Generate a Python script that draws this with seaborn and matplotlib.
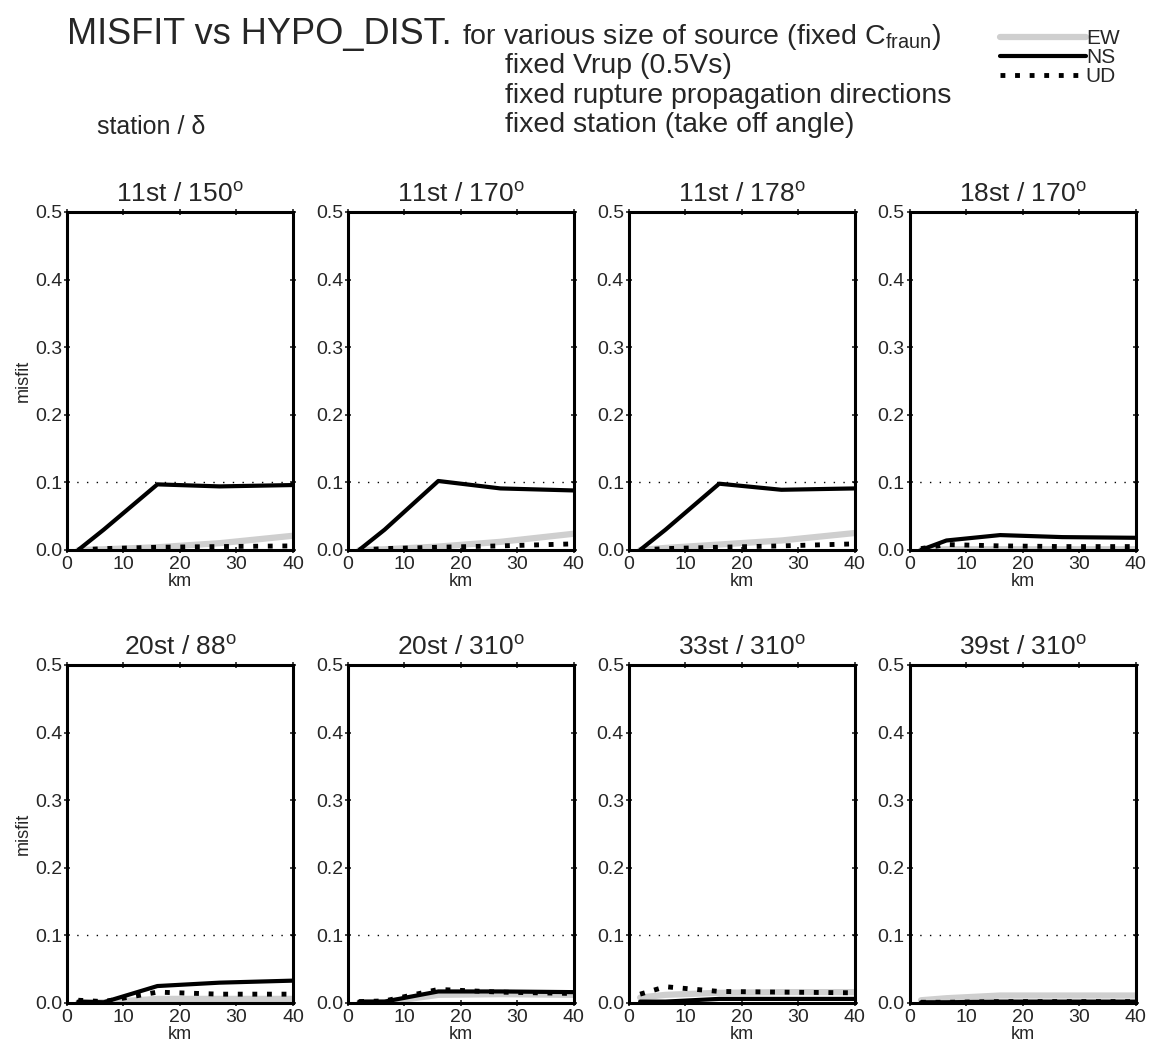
import pandas as pd
import matplotlib
matplotlib.use("Agg")
import matplotlib.pyplot as plt
import seaborn as sns
from matplotlib.lines import Line2D

# hypocentral distance samples (km)
dist = [2, 6.5, 16, 27, 40]

titles = [
    r"11st / 150$^{\mathrm{o}}$", r"11st / 170$^{\mathrm{o}}$",
    r"11st / 178$^{\mathrm{o}}$", r"18st / 170$^{\mathrm{o}}$",
    r"20st / 88$^{\mathrm{o}}$", r"20st / 310$^{\mathrm{o}}$",
    r"33st / 310$^{\mathrm{o}}$", r"39st / 310$^{\mathrm{o}}$",
]

ns = [
    [0.000, 0.030, 0.097, 0.094, 0.096],
    [0.000, 0.030, 0.102, 0.091, 0.088],
    [0.000, 0.030, 0.098, 0.089, 0.091],
    [0.000, 0.014, 0.022, 0.019, 0.018],
    [0.002, 0.001, 0.025, 0.030, 0.033],
    [0.002, 0.002, 0.017, 0.017, 0.016],
    [0.002, 0.002, 0.006, 0.006, 0.006],
    [0.001, 0.001, 0.002, 0.002, 0.002],
]
ew = [
    [0.000, 0.001, 0.004, 0.010, 0.021],
    [0.000, 0.001, 0.005, 0.012, 0.024],
    [0.000, 0.003, 0.008, 0.014, 0.025],
    [0.000, 0.001, 0.001, 0.001, 0.001],
    [0.001, 0.001, 0.006, 0.006, 0.006],
    [0.001, 0.001, 0.012, 0.013, 0.012],
    [0.008, 0.012, 0.015, 0.016, 0.016],
    [0.004, 0.007, 0.011, 0.011, 0.011],
]
ud = [
    [0.000, 0.002, 0.004, 0.005, 0.006],
    [0.000, 0.002, 0.004, 0.006, 0.009],
    [0.000, 0.002, 0.004, 0.006, 0.009],
    [0.002, 0.008, 0.006, 0.005, 0.005],
    [0.004, 0.002, 0.016, 0.013, 0.013],
    [0.002, 0.003, 0.020, 0.016, 0.014],
    [0.013, 0.024, 0.017, 0.016, 0.015],
    [0.001, 0.001, 0.002, 0.002, 0.002],
]

components = ["EW", "NS", "UD"]
styles = {
    "EW": dict(color="#cfcfcf", lw=4.5, ls="-"),
    "NS": dict(color="black", lw=3.0, ls="-"),
    "UD": dict(color="black", lw=3.5, ls=(0, (1, 2))),
}

rows = []
for i, t in enumerate(titles):
    for comp, vals in zip(components, [ew[i], ns[i], ud[i]]):
        for d, v in zip(dist, vals):
            rows.append({"panel": i, "comp": comp, "km": d, "misfit": v})
df = pd.DataFrame(rows)

sns.set_style("ticks")
plt.rcParams["font.family"] = ["Liberation Sans", "DejaVu Sans"]
plt.rcParams["mathtext.fontset"] = "custom"
plt.rcParams["mathtext.rm"] = "Liberation Sans"

fig, axes = plt.subplots(2, 4, figsize=(11.53, 10.49), dpi=100)
fig.subplots_adjust(left=0.0581, right=0.985, top=0.798, bottom=0.0439,
                    wspace=0.243, hspace=0.34)

for i, ax in enumerate(axes.flat):
    sub = df[df["panel"] == i]
    ax.axhline(0.1, color="black", lw=1.0, ls=(0, (1, 6)), zorder=1)
    for comp in components:
        st = styles[comp]
        sns.lineplot(data=sub[sub["comp"] == comp], x="km", y="misfit", ax=ax,
                     color=st["color"], linewidth=st["lw"], linestyle=st["ls"],
                     legend=False, zorder=3 if comp != "EW" else 2)
    ax.set_xlim(0, 40)
    ax.set_ylim(0, 0.5)
    ax.set_xticks([0, 10, 20, 30, 40])
    ax.set_yticks([0.0, 0.1, 0.2, 0.3, 0.4, 0.5])
    ax.set_yticklabels(["0.0", "0.1", "0.2", "0.3", "0.4", "0.5"])
    ax.tick_params(axis="both", which="both", direction="inout", length=5, width=1.2,
                   labelsize=14, top=True, right=True)
    ax.tick_params(axis="x", pad=2)
    ax.tick_params(axis="y", pad=1)
    for sp in ax.spines.values():
        sp.set_linewidth(2.2)
        sp.set_color("black")
    ax.set_title(titles[i], fontsize=19, pad=7)
    ax.set_xlabel("km", fontsize=13, labelpad=0)
    if i % 4 == 0:
        ax.set_ylabel("misfit", fontsize=13, labelpad=2)
    else:
        ax.set_ylabel("")

# header texts
fig.text(0.058, 0.9581, "MISFIT vs HYPO_DIST.", fontsize=26, va="baseline", ha="left")
fig.text(0.401, 0.9581, r"for various size of source (fixed C$_{\mathrm{fraun}}$)",
         fontsize=20.5, va="baseline", ha="left")
fig.text(0.438, 0.9300, "fixed Vrup (0.5Vs)", fontsize=20.5, va="baseline", ha="left")
fig.text(0.438, 0.9019, "fixed rupture propagation directions", fontsize=20.5,
         va="baseline", ha="left")
fig.text(0.438, 0.8738, "fixed station (take off angle)", fontsize=20.5,
         va="baseline", ha="left")
fig.text(0.084, 0.8725, "station / δ", fontsize=18, va="baseline", ha="left")

handles = [Line2D([0], [0], color=styles[c]["color"], lw=styles[c]["lw"],
                  ls=styles[c]["ls"]) for c in components]
fig.legend(handles, components, loc="upper right", bbox_to_anchor=(0.980, 0.982),
           frameon=False, fontsize=15, handlelength=4.1, handletextpad=0.0,
           labelspacing=0.0, borderpad=0.0)

fig.savefig("out.png", dpi=100)
